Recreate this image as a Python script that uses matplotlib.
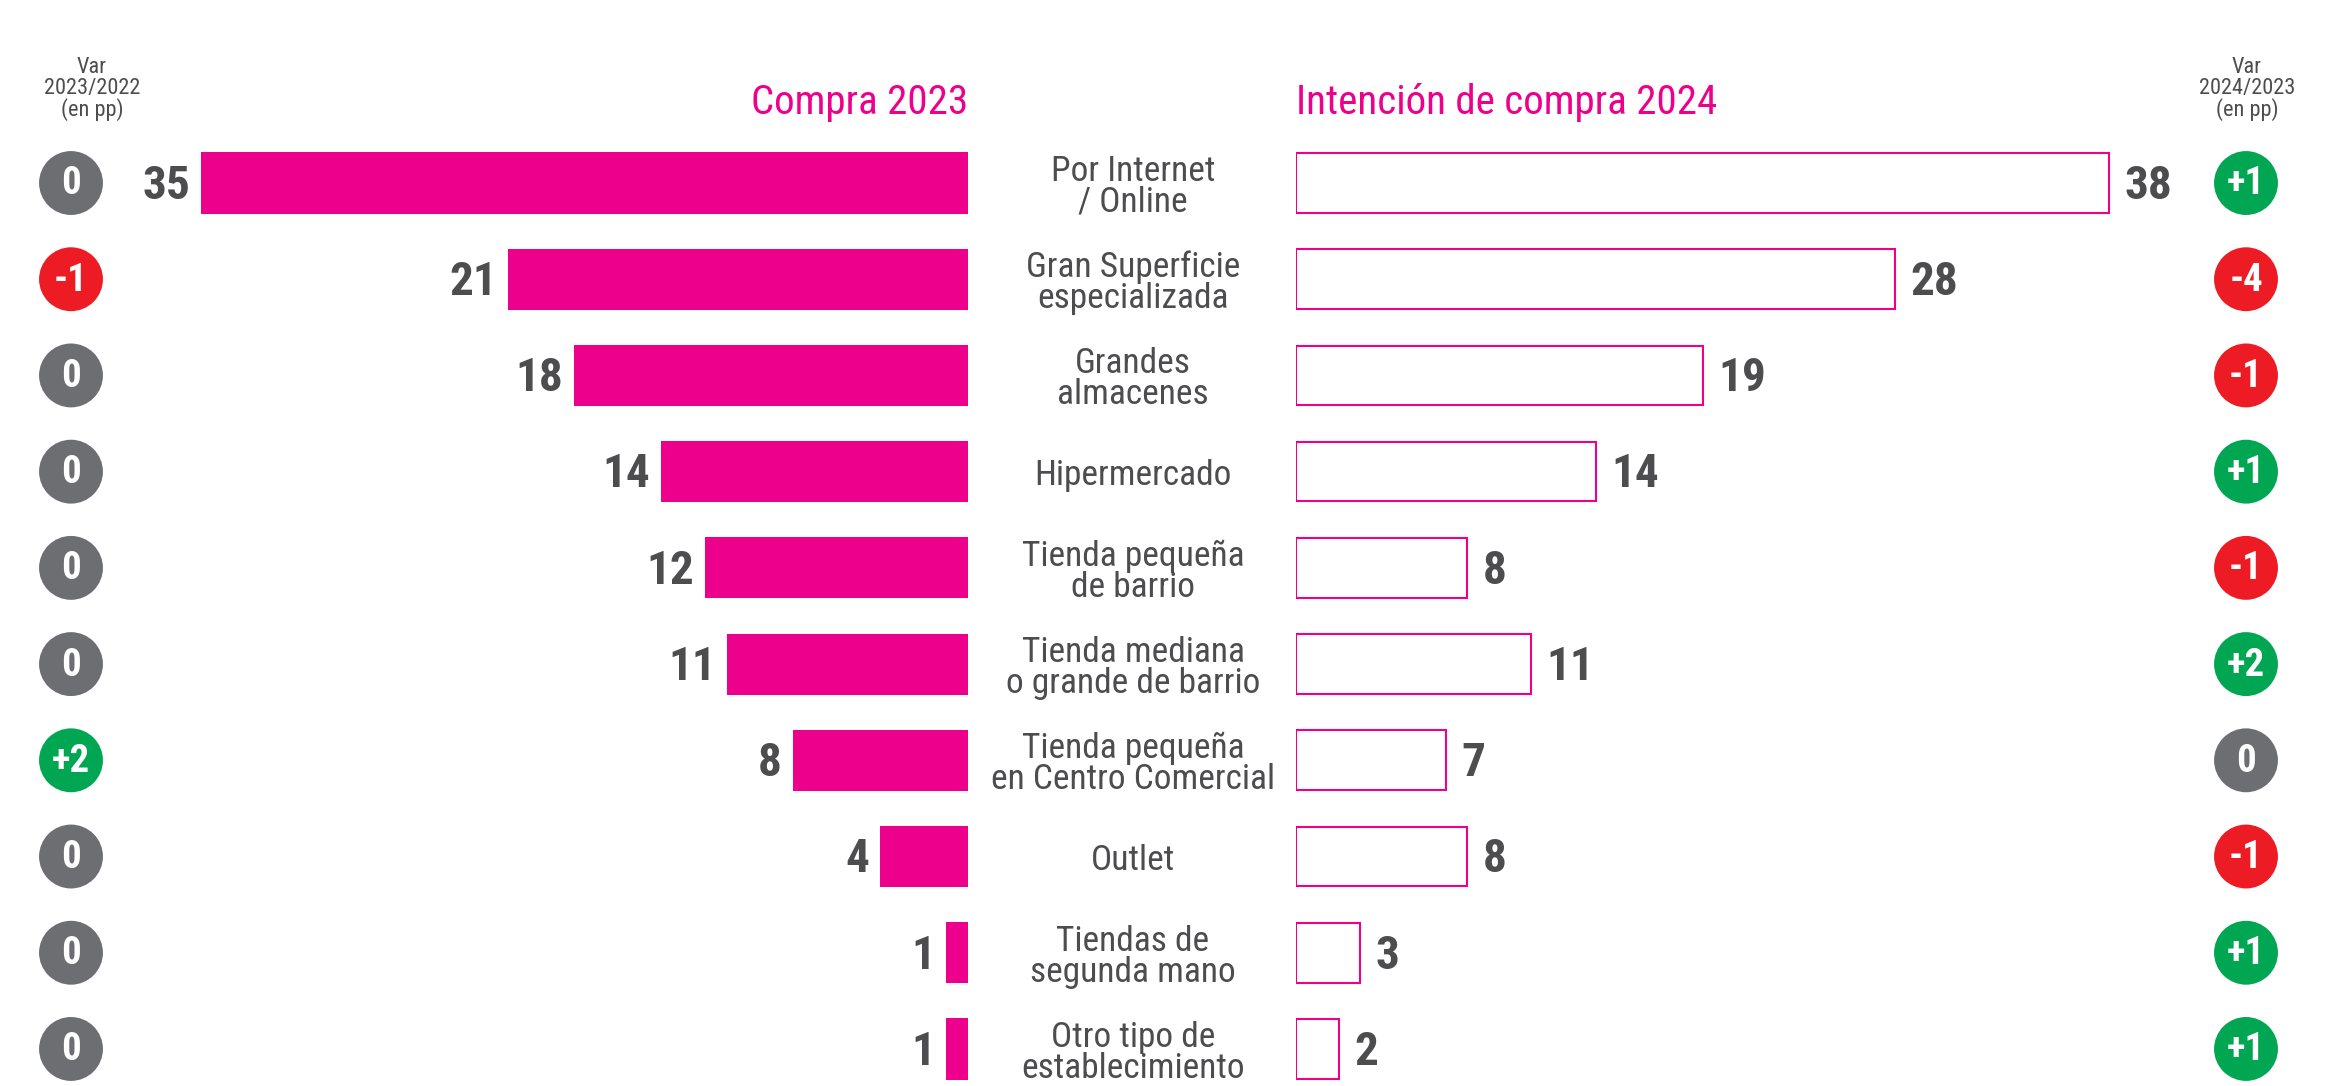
import matplotlib
matplotlib.use("Agg")
import matplotlib.pyplot as plt
import matplotlib.transforms as mtransforms

categories = [
    "Por Internet\n/ Online",
    "Gran Superficie\nespecializada",
    "Grandes\nalmacenes",
    "Hipermercado",
    "Tienda pequeña\nde barrio",
    "Tienda mediana\no grande de barrio",
    "Tienda pequeña\nen Centro Comercial",
    "Outlet",
    "Tiendas de\nsegunda mano",
    "Otro tipo de\nestablecimiento",
]
compra_2023 = [35, 21, 18, 14, 12, 11, 8, 4, 1, 1]
intencion_2024 = [38, 28, 19, 14, 8, 11, 7, 8, 3, 2]
var_2023_2022 = [0, -1, 0, 0, 0, 0, 2, 0, 0, 0]
var_2024_2023 = [1, -4, -1, 1, -1, 2, 0, -1, 1, 1]

MAGENTA = "#EC008C"
TEXT = "#4D4D4F"
GREEN = "#00A651"
RED = "#ED1C24"
GREY = "#6D6E71"

plt.rcParams["font.family"] = ["Roboto Condensed", "DejaVu Sans"]
plt.rcParams["font.stretch"] = "condensed"

W, H = 2343, 1086
fig = plt.figure(figsize=(W / 100, H / 100), dpi=100)
rows = list(range(len(categories)))
YLIM = (9.385, -0.551)


def px_axes(x0, x1, y0=130, y1=1086):
    ax = fig.add_axes([x0 / W, 1 - y1 / H, (x1 - x0) / W, (y1 - y0) / H])
    ax.set_ylim(*YLIM)
    ax.axis("off")
    return ax


def var_color(v):
    if v > 0:
        return GREEN
    if v < 0:
        return RED
    return GREY


def var_label(v):
    return f"+{v}" if v > 0 else str(v)


# left bars: Compra 2023
ax_l = px_axes(150, 968)
ax_l.set_xlim(818 / 21.9, 0)
ax_l.barh(rows, compra_2023, height=0.635, color=MAGENTA)
for i, v in zip(rows, compra_2023):
    ax_l.annotate(str(v), (v, i), xytext=(-8, -2), textcoords="offset points",
                  ha="right", va="center", fontsize=34, fontweight="bold",
                  color=TEXT)

# right bars: Intención 2024
ax_r = px_axes(1296, 2180)
ax_r.set_xlim(0, 884 / 21.4)
ax_r.barh(rows, intencion_2024, height=0.62, color="white",
          edgecolor=MAGENTA, linewidth=1.5)
for i, v in zip(rows, intencion_2024):
    ax_r.annotate(str(v), (v, i), xytext=(11, -2), textcoords="offset points",
                  ha="left", va="center", fontsize=34, fontweight="bold",
                  color=TEXT)

# category labels in the middle
tr = mtransforms.blended_transform_factory(fig.transFigure, ax_r.transData)
for i, c in zip(rows, categories):
    fig.text(1133 / W, i + 0.04, c, transform=tr, ha="center", va="center",
             fontsize=25.5, color=TEXT, linespacing=0.92)

# variation circles
for x_c, vals in ((71, var_2023_2022), (2246, var_2024_2023)):
    ax_c = px_axes(x_c - 45, x_c + 45)
    ax_c.set_xlim(-1, 1)
    ax_c.scatter([0] * len(vals), rows, s=46 ** 2,
                 c=[var_color(v) for v in vals], linewidths=0)
    for i, v in zip(rows, vals):
        ax_c.text(0, i + 0.01, var_label(v), ha="center", va="center",
                  fontsize=28, fontweight="bold", color="white")

# headers
fig.text(92 / W, 1 - 89 / H, "Var\n2023/2022\n(en pp)", ha="center",
         va="center", fontsize=16, color=TEXT, linespacing=0.95)
fig.text(2247 / W, 1 - 89 / H, "Var\n2024/2023\n(en pp)", ha="center",
         va="center", fontsize=16, color=TEXT, linespacing=0.95)
fig.text(968 / W, 1 - 103 / H, "Compra 2023", ha="right", va="center",
         fontsize=29.5, color=MAGENTA)
fig.text(1296 / W, 1 - 103 / H, "Intención de compra 2024", ha="left",
         va="center", fontsize=29.5, color=MAGENTA)

fig.savefig("out.png", dpi=100, facecolor="white")
